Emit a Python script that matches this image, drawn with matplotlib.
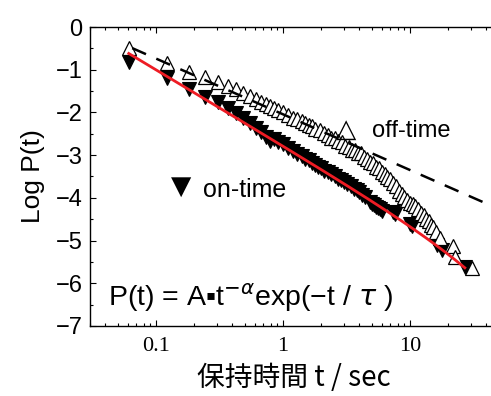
import numpy as np
import matplotlib
matplotlib.use('Agg')
import matplotlib.pyplot as plt
from matplotlib.ticker import LogLocator, NullFormatter, FixedLocator, MultipleLocator

# off-time histogram (open up-triangles): holding time t [s] and log P(t)
off_t = [0.061, 0.122, 0.183, 0.244, 0.305, 0.366, 0.427, 0.488, 0.549, 0.61,
         0.67, 0.73, 0.79, 0.85, 0.92, 1.0, 1.1, 1.2, 1.3, 1.4, 1.5, 1.6, 1.7,
         1.8, 1.95, 2.1, 2.25, 2.4, 2.55, 2.7, 2.9, 3.1, 3.3, 3.5, 3.7, 3.9,
         4.1, 4.35, 4.6, 4.85, 5.1, 5.4, 5.7, 6.0, 6.3, 6.6, 7.0, 7.4, 7.8,
         8.2, 8.6, 9.0, 9.5, 10.0, 10.5, 11.0, 11.6, 12.2, 12.8, 13.4, 14.0,
         14.6, 15.2, 16.0, 17.2, 21.8, 22.6, 30.8]
off_logp = [-0.49, -0.84, -1.05, -1.17, -1.29, -1.38, -1.46, -1.55, -1.62, -1.68,
            -1.76, -1.81, -1.86, -1.90, -1.95, -2.00, -2.05, -2.12, -2.15, -2.21,
            -2.24, -2.30, -2.32, -2.38, -2.42, -2.49, -2.52, -2.59, -2.61, -2.67,
            -2.70, -2.78, -2.80, -2.87, -2.88, -2.95, -2.96, -3.05, -3.08, -3.16,
            -3.19, -3.28, -3.31, -3.40, -3.43, -3.52, -3.57, -3.66, -3.73, -3.85,
            -3.90, -3.99, -4.04, -4.12, -4.14, -4.20, -4.25, -4.36, -4.40, -4.50,
            -4.55, -4.63, -4.69, -4.79, -4.93, -5.13, -5.39, -5.64]

# on-time histogram (filled down-triangles)
on_t = [0.061, 0.122, 0.183, 0.244, 0.305, 0.366, 0.427, 0.488, 0.549, 0.61,
        0.67, 0.73, 0.79, 0.85, 0.92, 1.0, 1.1, 1.2, 1.3, 1.4, 1.5, 1.6, 1.7,
        1.8, 1.9, 2.0, 2.1, 2.25, 2.4, 2.55, 2.7, 2.85, 3.0, 3.2, 3.4, 3.6,
        3.8, 4.0, 4.2, 4.45, 4.8, 5.0, 5.2, 5.4, 5.6, 5.8, 6.0, 7.3, 7.6,
        10.0, 10.4, 16.3, 17.9, 27.0]
on_logp = [-0.82, -1.19, -1.45, -1.65, -1.76, -1.90, -2.02, -2.13, -2.25, -2.37,
           -2.46, -2.58, -2.66, -2.62, -2.70, -2.75, -2.84, -2.90, -2.97, -3.02,
           -3.08, -3.12, -3.18, -3.22, -3.27, -3.30, -3.36, -3.40, -3.45, -3.50,
           -3.55, -3.59, -3.63, -3.68, -3.73, -3.79, -3.82, -3.87, -3.93, -3.98,
           -4.10, -4.14, -4.17, -4.21, -4.24, -4.27, -4.30, -4.33, -4.38,
           -4.62, -4.66, -5.10, -5.22, -5.62]

# fit: power law (dashed) and power law with exponential cutoff (red)
pl_c, pl_beta = -2.044, 1.305
pl_range = (0.065, 60.0)
ex_logA, ex_alpha, ex_tau = -2.781, 1.78, 38.0
ex_range = (0.061, 27.0)

plt.rcParams['font.family'] = ['Liberation Sans', 'DejaVu Sans']

fig = plt.figure(figsize=(4.91, 3.96), dpi=100)
ax = fig.add_axes([0.1825, 0.1768, 0.8334, 0.755])

ax.plot(on_t, on_logp, linestyle='none', marker='v', ms=9.5,
        mfc='black', mec='black', mew=0.8, zorder=2)
ax.plot(off_t, off_logp, linestyle='none', marker='^', ms=9.5,
        mfc='white', mec='black', mew=0.9, zorder=3)

tt = np.logspace(np.log10(pl_range[0]), np.log10(pl_range[1]), 50)
ax.plot(tt, pl_c - pl_beta * np.log10(tt), color='black', lw=1.8,
        dashes=(6, 4.5), zorder=4)

tt = np.logspace(np.log10(ex_range[0]), np.log10(ex_range[1]), 200)
ax.plot(tt, ex_logA - ex_alpha * np.log10(tt) - tt / (ex_tau * np.log(10)),
        color='#ee1c24', lw=2.0, zorder=5)

ax.set_xscale('log')
ax.set_xlim(0.03, 50)
ax.set_ylim(-7, 0)

ax.xaxis.set_major_locator(FixedLocator([0.1, 1, 10]))
ax.xaxis.set_minor_locator(LogLocator(base=10, subs=np.arange(2, 10), numticks=20))
ax.xaxis.set_minor_formatter(NullFormatter())
ax.set_xticklabels(['0.1', '1', '10'], family='Liberation Serif', fontsize=16)
ax.yaxis.set_major_locator(MultipleLocator(1))
ax.yaxis.set_minor_locator(MultipleLocator(0.5))
for lab in ax.get_yticklabels():
    lab.set_fontsize(17)

ax.tick_params(which='both', direction='in', top=True, right=False, width=0.8)
ax.tick_params(which='major', length=4.5)
ax.tick_params(which='minor', length=2.3)
ax.tick_params(axis='x', which='major', pad=8)
ax.tick_params(axis='y', which='major', pad=5)
ax.spines['right'].set_visible(False)
for s in ['left', 'bottom', 'top']:
    ax.spines[s].set_linewidth(1.0)

ax.set_ylabel('Log P(t)', fontsize=19, labelpad=8)
ax.set_xlabel('保持時間 t / sec', fontsize=20, labelpad=5,
              family=['Noto Sans CJK JP', 'DejaVu Sans'])

# legend-like labels inside the plot
ax.text(0.627, 0.655, '△', transform=ax.transAxes, fontsize=19,
        family=['DejaVu Sans'], va='center', ha='center')
ax.text(0.690, 0.652, 'off-time', transform=ax.transAxes, fontsize=17,
        va='center', ha='left')
ax.text(0.224, 0.465, '▼', transform=ax.transAxes, fontsize=19,
        family=['DejaVu Sans'], va='center', ha='center')
ax.text(0.277, 0.455, 'on-time', transform=ax.transAxes, fontsize=18,
        va='center', ha='left')

ax.text(0.045, 0.094, 'P(t) = A\u25aat$^{-\\alpha}$exp(\u2212t / $\\tau$ )',
        transform=ax.transAxes, fontsize=20.5, va='center', ha='left')

fig.savefig('out.png', dpi=100)
